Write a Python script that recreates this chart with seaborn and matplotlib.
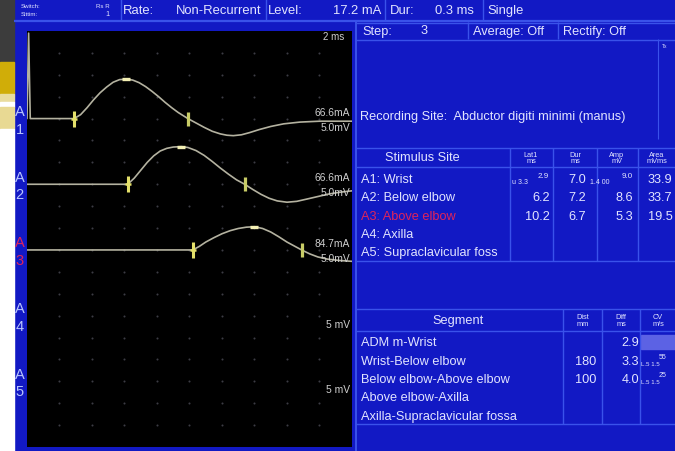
import matplotlib
matplotlib.use("Agg")
import matplotlib.pyplot as plt
from matplotlib.patches import Rectangle
import pandas as pd
import seaborn as sns

# ---------------- status bar ----------------
switch_lines = ["Switch:", "Sittim:"]
switch_values = ["Rs R", "1"]
rate_label, rate_value = "Rate:", "Non-Recurrent"
level_label, level_value = "Level:", "17.2 mA"
dur_label, dur_value = "Dur:", "0.3 ms"
mode_value = "Single"
step_label, step_value = "Step:", "3"
average_text = "Average: Off"
rectify_text = "Rectify: Off"
recording_site = "Recording Site:  Abductor digiti minimi (manus)"

# ---------------- recorded responses (time in ms, response in mV) ----------------
a1_time = [0.0, 0.1, 0.2, 2.9, 3.3, 3.7, 4.1, 4.5, 4.9, 5.3, 5.7, 6.1, 6.5, 6.9,
           7.3, 7.7, 8.1, 8.5, 8.9, 9.3, 9.6, 9.9, 10.4, 10.9, 11.4, 11.9, 12.3,
           12.7, 13.2, 13.7, 14.3, 15.0, 15.8, 16.8, 18.0, 20.0]
a1_mv = [0.0, 19.5, 0.0, 0.0, 0.9, 2.5, 4.3, 5.9, 7.2, 8.3, 8.9, 9.0, 8.8, 8.2,
         7.3, 6.2, 5.0, 3.7, 2.5, 1.4, 0.7, 0.0, -1.0, -2.0, -2.9, -3.5, -3.8,
         -3.9, -3.7, -3.2, -2.5, -1.8, -1.2, -0.8, -0.6, -0.6]

a2_time = [0.0, 6.2, 6.6, 7.0, 7.4, 7.8, 8.2, 8.6, 9.0, 9.5, 9.9, 10.4, 10.9,
           11.4, 11.9, 12.4, 12.9, 13.4, 13.9, 14.4, 14.9, 15.4, 16.0, 16.6,
           17.2, 17.9, 18.6, 19.3, 20.0]
a2_mv = [0.0, 0.0, 1.4, 3.2, 5.0, 6.5, 7.6, 8.2, 8.5, 8.6, 8.4, 7.7, 6.6,
         5.2, 3.7, 2.3, 1.0, 0.0, -1.2, -2.3, -3.2, -3.8, -4.1, -3.9,
         -3.4, -2.8, -2.2, -1.8, -1.5]

a3_time = [0.0, 10.2, 10.6, 11.0, 11.5, 12.0, 12.5, 13.0, 13.5, 14.0, 14.5,
           15.0, 15.5, 16.0, 16.5, 16.9, 17.4, 17.9, 18.5, 19.2, 20.0]
a3_mv = [0.0, 0.0, 0.8, 1.8, 2.8, 3.7, 4.4, 4.9, 5.2, 5.3, 4.9,
         4.1, 3.0, 1.8, 0.8, 0.0, -0.9, -1.6, -2.1, -2.4, -2.6]

channel_names = ["A1", "A2", "A3", "A4", "A5"]
stim_current = ["66.6mA", "66.6mA", "84.7mA", "", ""]
sensitivity = ["5.0mV", "5.0mV", "5.0mV", "5 mV", "5 mV"]
sweep_label = "2 ms"

# ---------------- measurements ----------------
stim_sites = ["A1: Wrist", "A2: Below elbow", "A3: Above elbow", "A4: Axilla",
              "A5: Supraclavicular foss"]
lat1_ms = [2.9, 6.2, 10.2]
dur_ms = [7.0, 7.2, 6.7]
amp_mv = [9.0, 8.6, 5.3]
peak_ms = [6.1, 9.5, 14.0]
area_mvms = [33.9, 33.7, 19.5]

segments = ["ADM m-Wrist", "Wrist-Below elbow", "Below elbow-Above elbow",
            "Above elbow-Axilla", "Axilla-Supraclavicular fossa"]
dist_mm = [None, 180, 100, None, None]
diff_ms = [2.9, 3.3, 4.0, None, None]
cv_note = ["", "55", "25", "", ""]

stim_headers = ["Lat1\nms", "Dur\nms", "Amp\nmV", "Area\nmVms"]
seg_headers = ["Dist\nmm", "Diff\nms", "CV\nm/s"]

# ---------------- styling ----------------
sns.set_theme(style="dark")
plt.rcParams["font.family"] = ["Liberation Sans", "DejaVu Sans"]

BLUE = "#1219c4"
LINE = "#3a52ea"
TEXT = "#e2e4ff"
RED = "#e0245a"
TRACE = "#b4b2a0"
MARK = "#e4e06a"
MARK_END = "#c8cc66"
PEAK = "#f4f0b4"
BODY = 9.2
MV_PER_DIV = 5.0
baselines = [15, 12, 9, 6, 3]          # divisions above the bottom of the screen

W, H = 675, 452
fig = plt.figure(figsize=(W / 100, H / 100), dpi=100, facecolor=BLUE)

# background layer in pixel units
bg = fig.add_axes([0, 0, 1, 1])
bg.set_xlim(0, W)
bg.set_ylim(H, 0)
bg.axis("off")
bg.add_patch(Rectangle((0, 0), W, H, color=BLUE, zorder=0))

# left desktop strip
for y0, y1, c in [(0, 63, "#3c3c3c"), (63, 95, "#d0ad08"), (95, 103, "#e9dc9e"),
                  (103, 108, "#ffffff"), (108, 130, "#e8d993"), (130, H, "#ffffff")]:
    bg.add_patch(Rectangle((0, y0), 14, y1 - y0, color=c, zorder=1))


def hline(y, x0, x1, lw=1.0):
    bg.plot([x0, x1], [y, y], color=LINE, lw=lw, zorder=2, solid_capstyle="butt")


def vline(x, y0, y1, lw=1.0):
    bg.plot([x, x], [y0, y1], color=LINE, lw=lw, zorder=2, solid_capstyle="butt")


def txt(x, y, s, size=BODY, ha="left", color=TEXT, **kw):
    bg.text(x, y, s, fontsize=size, ha=ha, va="center", color=color, zorder=3, **kw)


# status bar
hline(21.5, 14, W, lw=1.6)
for x in (121, 266, 385, 483):
    vline(x, 0, 21)
txt(21, 6, switch_lines[0], size=4.4)
txt(21, 15, switch_lines[1], size=4.4)
txt(110, 6, switch_values[0], size=4.4, ha="right")
txt(110, 15, switch_values[1], size=5.2, ha="right")
txt(123, 11, rate_label, size=9.4)
txt(176, 11, rate_value, size=9.4)
txt(268, 11, level_label, size=9.4)
txt(333, 11, level_value, size=9.4)
txt(390, 11, dur_label, size=9.4)
txt(435, 11, dur_value, size=9.4)
txt(487, 11, mode_value, size=9.4)

# right information panel
vline(355.5, 21, H, lw=1.4)
hline(23.5, 356, W)
hline(40.5, 356, W)
vline(468, 23, 40)
vline(558, 23, 40)
vline(658, 40, 140, lw=0.8)
txt(362, 31.5, step_label)
txt(421, 31.5, step_value)
txt(473, 31.5, average_text)
txt(563, 31.5, rectify_text)
txt(662, 46, "Tx", size=3.5)
txt(360, 117, recording_site)

# stimulus site table
hline(149, 356, W)
hline(168, 356, W)
hline(262, 356, W)
for x in (510, 553, 597, 638):
    vline(x, 149, 262)
txt(422, 158.5, "Stimulus Site", ha="center")
for s, xc in zip(stim_headers, (531, 575, 617, 657)):
    bg.text(xc, 158.5, s, fontsize=5.3, ha="center", va="center", color=TEXT,
            linespacing=0.85, zorder=3)
stim_rows = [180, 198, 217, 235, 253]
for i, (name, y) in enumerate(zip(stim_sites, stim_rows)):
    txt(361, y, name, color=RED if i == 2 else TEXT)
for i, y in enumerate(stim_rows[:3]):
    if i == 0:
        txt(512, y + 3, "u 3.3", size=5.0)
        txt(549, y - 3, f"{lat1_ms[i]:.1f}", size=5.8, ha="right")
        txt(590, y + 3, "1.4 00", size=5.0)
        txt(633, y - 3, f"{amp_mv[i]:.1f}", size=5.8, ha="right")
    else:
        txt(550, y, f"{lat1_ms[i]:.1f}", ha="right")
        txt(633, y, f"{amp_mv[i]:.1f}", ha="right")
    txt(586, y, f"{dur_ms[i]:.1f}", ha="right")
    txt(648, y, f"{area_mvms[i]:.1f}")

# nerve segment table
hline(310, 356, W)
hline(332, 356, W)
hline(425, 356, W)
for x in (563, 602, 640):
    vline(x, 310, 425)
txt(458, 321, "Segment", ha="center")
for s, xc in zip(seg_headers, (583, 621, 658)):
    bg.text(xc, 321, s, fontsize=5.3, ha="center", va="center", color=TEXT,
            linespacing=0.85, zorder=3)
bg.add_patch(Rectangle((640.5, 336), W - 640.5, 14, color="#5c62e4", zorder=1.5))
seg_rows = [343, 362, 380, 398, 417]
for i, (name, y) in enumerate(zip(segments, seg_rows)):
    txt(361, y, name)
    if dist_mm[i] is not None:
        txt(596, y, f"{dist_mm[i]}", ha="right")
    if diff_ms[i] is not None:
        txt(639, y, f"{diff_ms[i]:.1f}", ha="right")
    if cv_note[i]:
        txt(641, y + 3, "L.5 1.5", size=4.4)
        txt(659, y - 4, cv_note[i], size=5.0)

# channel labels at the left of the screen
for i, (name, b) in enumerate(zip(channel_names, baselines)):
    ypx = 448 - b * 416 / 19
    col = RED if i == 2 else "#b8c4ff"
    bg.text(19.5, ypx - 7.5, name[0], fontsize=10.5, ha="center", va="center",
            color=col, zorder=3)
    bg.text(19.5, ypx + 10, name[1], fontsize=10.5, ha="center", va="center",
            color=col, zorder=3)

# ---------------- trace screen ----------------
ax = fig.add_axes([27 / W, (H - 448) / H, 325 / W, 416 / H])
ax.set_facecolor("black")
ax.set_xlim(0, 20)
ax.set_ylim(0, 19)
ax.set_xticks([])
ax.set_yticks([])
for sp in ax.spines.values():
    sp.set_visible(False)

gx = [x for x in range(2, 20, 2) for _ in range(1, 19)]
gy = [y for _ in range(2, 20, 2) for y in range(1, 19)]
ax.scatter(gx, gy, s=2.2, color="#3c3c44", linewidths=0, zorder=1)

traces = pd.concat([
    pd.DataFrame({"time": t, "mv": v, "channel": c})
    for t, v, c in [(a1_time, a1_mv, "A1"), (a2_time, a2_mv, "A2"), (a3_time, a3_mv, "A3")]
], ignore_index=True)
base_of = dict(zip(channel_names, baselines))
traces["level"] = traces["channel"].map(base_of) + traces["mv"] / MV_PER_DIV

sns.lineplot(data=traces, x="time", y="level", hue="channel",
             palette=[TRACE] * 3, estimator=None, sort=False, legend=False,
             linewidth=1.2, ax=ax, zorder=2)
ax.set_xlabel("")
ax.set_ylabel("")

for i in range(3):
    b = baselines[i]
    ax.plot([lat1_ms[i]], [b], marker="|", ms=11, mew=2.2, color=MARK, zorder=4)
    ax.plot([lat1_ms[i]], [b], marker="_", ms=5, mew=1.8, color=MARK, zorder=4)
    ax.plot([lat1_ms[i] + dur_ms[i]], [b], marker="|", ms=9.5, mew=2.3,
            color=MARK_END, zorder=4)
    ax.plot([peak_ms[i]], [b + amp_mv[i] / MV_PER_DIV], marker="_", ms=6,
            mew=2.4, color=PEAK, zorder=4)

for i, b in enumerate(baselines):
    if stim_current[i]:
        ax.text(19.9, b + 0.32, stim_current[i], fontsize=7.4, ha="right",
                va="center", color="#cfcfcf", zorder=5)
    ax.text(19.9, b - 0.37, sensitivity[i], fontsize=7.4, ha="right",
            va="center", color="#cfcfcf", zorder=5)
ax.text(19.5, 18.75, sweep_label, fontsize=7, ha="right", va="center",
        color="#cfcfcf", zorder=5)

fig.savefig("out.png", dpi=100, facecolor=BLUE)
